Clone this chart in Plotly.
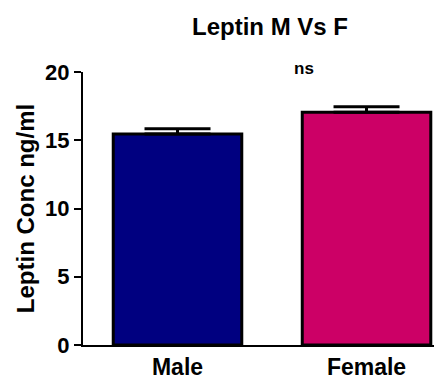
import plotly.graph_objects as go

categories = ["Male", "Female"]
means = [15.46, 17.06]
sems = [0.38, 0.40]
colors = ["#000080", "#CC0066"]
y_ticks = [0, 5, 10, 15, 20]

fig = go.Figure()
fig.add_trace(go.Bar(
    x=categories, y=means,
    width=0.68,
    marker=dict(color=colors, line=dict(color="black", width=3)),
    error_y=dict(type="data", array=sems, visible=True, color="black",
                 thickness=3, width=33, symmetric=False, arrayminus=[0, 0]),
))

font = "Liberation Sans, Arial, sans-serif"
fig.update_layout(
    width=434, height=379,
    margin=dict(l=83, r=0, t=72, b=34),
    paper_bgcolor="white", plot_bgcolor="white",
    showlegend=False,
    font=dict(family=font, color="black", weight="bold"),
    title=dict(text="Leptin M Vs F", x=270/434, xanchor="center",
               y=1 - 27/379, yanchor="middle",
               font=dict(size=24, family=font, weight="bold")),
    annotations=[dict(text="ns", x=273/434, xref="paper", y=1, yref="paper",
                      xanchor="center", yanchor="middle", showarrow=False,
                      font=dict(size=17, family=font, weight="bold"), yshift=4)],
)
fig.update_xaxes(range=[-0.5, 1.357], showline=True, linecolor="black", linewidth=2,
                 ticks="", tickfont=dict(size=23, family=font, weight="bold"), showgrid=False,
                 ticklabelstandoff=0, automargin=False)
fig.update_yaxes(range=[0, 20], tickvals=y_ticks, showline=True, linecolor="black", linewidth=2,
                 ticks="outside", ticklen=7, tickwidth=2, tickcolor="black",
                 tickfont=dict(size=22, family=font, weight="bold"), showgrid=False, zeroline=False,
                 automargin=False,
                 title=dict(text="Leptin Conc ng/ml", font=dict(size=24, family=font, weight="bold"),
                            standoff=4))

fig.write_html("out.html", config={"displayModeBar": False},
               post_script="document.body.style.margin='0';document.body.style.overflow='hidden';")
